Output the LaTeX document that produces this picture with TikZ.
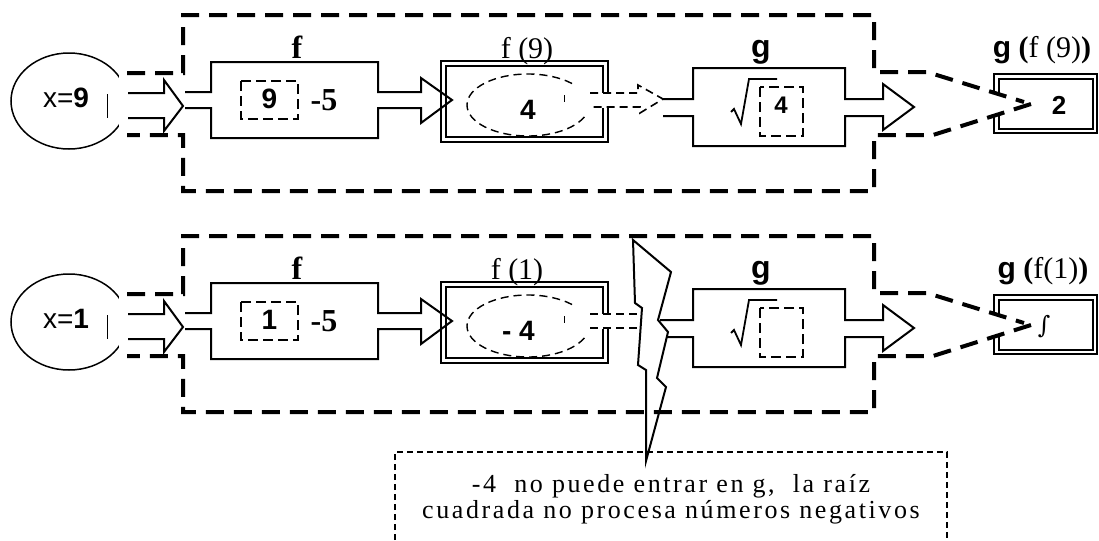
\documentclass[tikz,border=0pt]{standalone}
\usepackage{fontspec}
\setmainfont{Liberation Serif}
\setsansfont{Liberation Sans}
\newfontfamily\notefont[LetterSpace=10]{Liberation Serif}
\newfontfamily\intfont{DejaVu Serif}
\tikzset{
 boxline/.style={line width=1pt, line join=miter, miter limit=10},
 thinline/.style={line width=0.75pt},
 tickline/.style={line width=0.5pt},
 rootline/.style={line width=0.9pt, line join=miter},
 bigdash/.style={line width=2pt, dash pattern=on 9pt off 5pt},
 smalldash/.style={line width=1pt, dash pattern=on 5pt off 2.5pt},
 ovaldash/.style={line width=0.7pt, dash pattern=on 4pt off 2.5pt},
 arrowdash/.style={line width=0.8pt, dash pattern=on 4pt off 2.5pt},
 notedash/.style={line width=0.6pt, dash pattern=on 3pt off 2pt},
 txt/.style={inner sep=0pt, outer sep=0pt, anchor=base},
}
\newcommand\commonrow[1]{%
 \draw[thinline] (69,101) ellipse [x radius=58, y radius=48];
 \draw[boxline] (994,74) rectangle (1097,133);
 \draw[boxline] (999,78.5) rectangle (1092.5,128.5);
 \fill[white] (119,73) -- (183,73) -- (183,15) -- (874,15) -- (874,72) -- (927,72) -- (1030,103)
   -- (933,135) -- (874,135) -- (874,191) -- (183,191) -- (183,135) -- (119,135) -- cycle;
 \draw[bigdash] (127,73) -- (183,73) -- (183,15) -- (874,15) -- (874,72) -- (927,72) -- (1024,102);
 \draw[bigdash] (1031,104) -- (933,135) -- (874,135) -- (874,191) -- (183,191) -- (183,135) -- (127,135);
 \draw[tickline] (107,94) -- (107,118);
 \node[txt] (xin) at (66,107) {\fontsize{14}{16}\selectfont\sffamily x=\textbf{#1}};
 \draw[boxline] (128,93) -- (164,93) -- (164,80) -- (183,106) -- (164,131) -- (164,118) -- (128,118);
 \draw[boxline] (185,92) -- (211,92) -- (211,62) -- (378,62) -- (378,92) -- (421,92) -- (421,78)
   -- (452,100) -- (421,123) -- (421,108) -- (378,108) -- (378,138) -- (211,138) -- (211,108) -- (185,108);
 \node[txt] (flabel) at (297,58) {\fontsize{16}{18}\selectfont\bfseries f};
 \draw[smalldash] (241,81) rectangle (298,119);
 \node[txt] (fin) at (269.5,108) {\fontsize{14}{16}\selectfont\sffamily\bfseries #1};
 \node[txt] (minus) at (324,110) {\fontsize{16}{18}\selectfont\bfseries -5};
 \draw[boxline] (441,61) rectangle (608,142);
 \draw[boxline] (445.5,66) rectangle (603,137);
 \fill[white] (598,92.5) rectangle (613,107.5);
 \draw[ovaldash] (528,105) ellipse [x radius=61, y radius=31];
 \fill[white] (572,84) rectangle (600,116);
 \draw[tickline] (564,95) -- (564,102);
 \node[txt] (glabel) at (761,57) {\fontsize{16}{18}\selectfont\sffamily\bfseries g};
 \draw[rootline] (731,112) -- (734,109) -- (741,124) -- (749,79) -- (777,79);
 \draw[smalldash] (760,87) rectangle (803,136);
}
\begin{document}
\begin{tikzpicture}[x=0.5pt,y=-0.5pt]
\useasboundingbox (0,0) rectangle (1099,541);
\clip (0,0) rectangle (1099,541);
% top row
\begin{scope}[name prefix=top-]
 \commonrow{9}
 \draw[arrowdash] (590,93) -- (638,93) -- (638,85) -- (663,99) -- (640,113) -- (640,107) -- (590,107);
 \draw[boxline] (663,99) -- (693,99) -- (693,68) -- (845,68) -- (845,99) -- (883,99) -- (883,84)
   -- (914,107) -- (883,130) -- (883,116) -- (845,116) -- (845,146) -- (693,146) -- (693,116) -- (663,116);
 \node[txt] (fval) at (527,58) {\fontsize{15}{17}\selectfont f (9)};
 \node[txt] (fres) at (528,119) {\fontsize{14}{16}\selectfont\sffamily\bfseries 4};
 \node[txt] (gin) at (781,113) {\fontsize{12}{14}\selectfont\sffamily\bfseries 4};
 \node[txt] (res) at (1059,114) {\fontsize{13}{15}\selectfont\sffamily\bfseries 2};
 \node[txt] (reslabel) at (1042,57) {\fontsize{15}{17}\selectfont\textsf{\textbf{g}} \textbf{(}f (9)\textbf{)}};
\end{scope}
% bottom row
\begin{scope}[shift={(0,221)}, name prefix=bot-]
 \commonrow{1}
 \draw[arrowdash] (590,93) -- (641,93);
 \draw[arrowdash] (590,107) -- (641,107);
 \draw[boxline] (660,99) -- (693,99) -- (693,68) -- (845,68) -- (845,99) -- (883,99) -- (883,84)
   -- (914,107) -- (883,130) -- (883,116) -- (845,116) -- (845,146) -- (693,146) -- (693,116) -- (667,116);
 \node[txt] (fval) at (517,58) {\fontsize{15}{17}\selectfont f (1)};
 \node[txt] (fres) at (518.5,119) {\fontsize{14}{16}\selectfont\sffamily\bfseries - 4};
 \node[inner sep=0pt] (res) at (1044,106) {\fontsize{12}{14}\selectfont\intfont ∫};
 \node[txt] (reslabel) at (1043,57) {\fontsize{15}{17}\selectfont\textsf{\textbf{g}} \textbf{(}f(1)\textbf{)}};
\end{scope}
% lightning bolt
\draw[boxline] (633,240) -- (671,272) -- (658,320) -- (668,332) -- (657,378) -- (666,387) -- (646,461)
  -- (646,370) -- (638,365) -- (642,308) -- (635,303) -- cycle;
% note
\draw[notedash] (395,560) -- (395,452) -- (947,452) -- (947,560);
\node[inner sep=0pt, align=center, font={\notefont\fontsize{13}{11.5}\selectfont}] (note) at (671,499)
  {-4~ no puede entrar en g,~ la raíz\\cuadrada no procesa números negativos};
\end{tikzpicture}
\end{document}
